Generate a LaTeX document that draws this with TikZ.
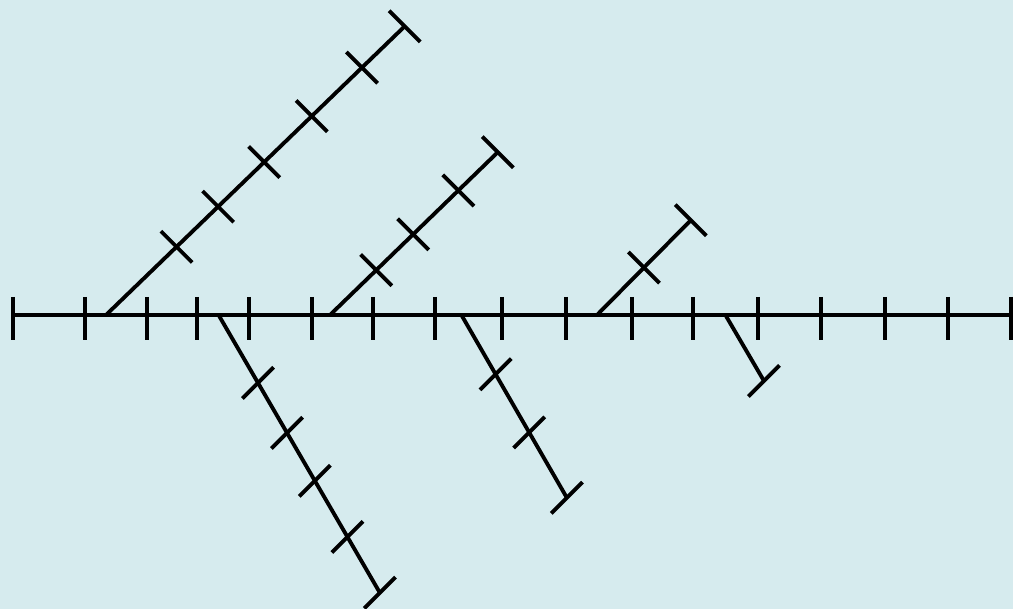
\documentclass[tikz,border=0pt]{standalone}
\usepackage{tikz}
\usetikzlibrary{decorations.markings}
\definecolor{paleblue}{RGB}{214,235,238}
\tikzset{
  bone/.style={line width=2.9pt},
  % ticks on rising branches: direction (1,1) in picture units
  nick/.style={postaction={decorate,decoration={markings,
    mark=at position #1 with {\pgftransformresetnontranslations
      \draw[bone] (-15.6,-15.6) -- (15.6,15.6);}}}},
  % ticks on falling branches: direction (1,-1)
  slant/.style={postaction={decorate,decoration={markings,
    mark=at position #1 with {\pgftransformresetnontranslations
      \draw[bone] (-15.6,15.6) -- (15.6,-15.6);}}}},
}
\begin{document}
\begin{tikzpicture}[x=0.75pt,y=-0.75pt]
\fill[paleblue] (0,0) rectangle (1013,609);
\useasboundingbox (0,0) rectangle (1013,609);
\clip (0,0) rectangle (1013,609);
% spine
\coordinate (head) at (13,315);
\coordinate (tail) at (1013,315);
\draw[bone] (head) -- (tail);
\foreach \x in {13,85,147,197,249,312,373,435,502,566,632,693,758,821,885,948,1011}
  \draw[bone] (\x,297) -- (\x,340);
% branches above
\coordinate (up1s) at (106,315);
\coordinate (up1e) at (405,26);
\draw[bone,nick/.list={0.236,0.375,0.529,0.688,0.856,0.999}] (up1s) -- (up1e);
\coordinate (up2s) at (330,315);
\coordinate (up2e) at (498,152);
\draw[bone,nick/.list={0.275,0.495,0.764,0.999}] (up2s) -- (up2e);
\coordinate (up3s) at (597,315);
\coordinate (up3e) at (691,220);
\draw[bone,nick/.list={0.5,0.999}] (up3s) -- (up3e);
% branches below
\coordinate (dn1s) at (218,314);
\coordinate (dn1e) at (380,593);
\draw[bone,slant/.list={0.247,0.426,0.598,0.799,0.999}] (dn1s) -- (dn1e);
\coordinate (dn2s) at (462,316);
\coordinate (dn2e) at (567,498);
\draw[bone,slant/.list={0.32,0.64,0.999}] (dn2s) -- (dn2e);
\coordinate (dn3s) at (726,316);
\coordinate (dn3e) at (764,381);
\draw[bone,slant/.list={0.999}] (dn3s) -- (dn3e);
\end{tikzpicture}
\end{document}
